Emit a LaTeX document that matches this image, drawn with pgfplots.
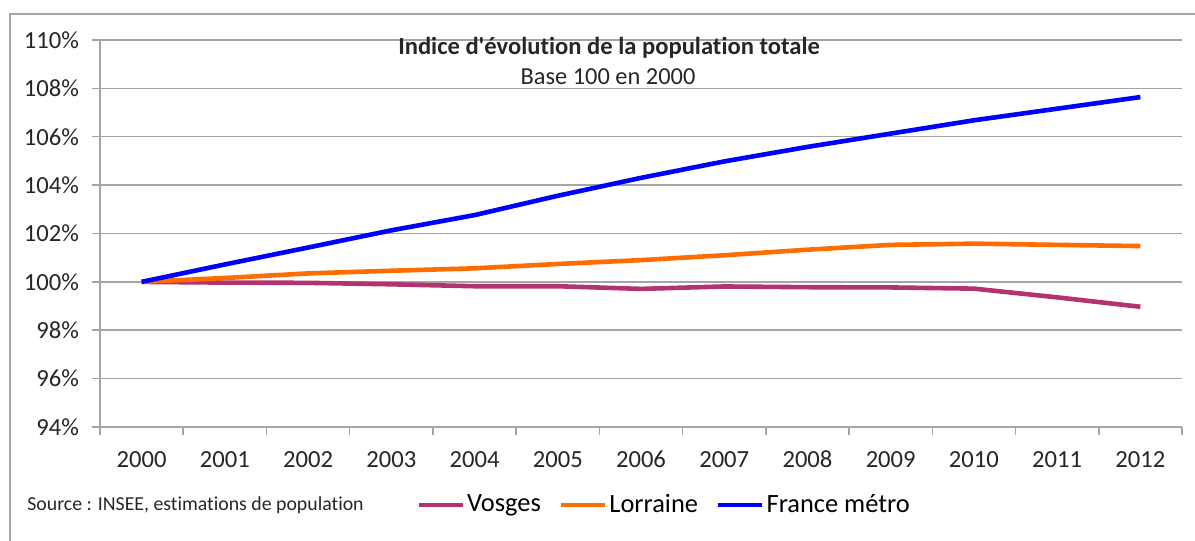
\documentclass[border=0pt]{standalone}
\usepackage{fontspec}
\setmainfont{Carlito}[Ligatures={NoCommon}]
\usepackage{pgfplots}
\pgfplotsset{compat=1.18}
\definecolor{vosges}{RGB}{181,50,113}
\definecolor{lorraine}{RGB}{255,108,0}
\definecolor{france}{RGB}{0,0,255}
\definecolor{gridgray}{RGB}{165,165,165}

\begin{document}
\begin{tikzpicture}
\path[use as bounding box] (0,0) rectangle (597.5bp,270.5bp);
% chart frame
\draw[gridgray, line width=1bp] (5bp,-2bp) -- (5bp,263.5bp) -- (600bp,263.5bp);
\begin{axis}[
    at={(50bp,57bp)}, anchor=south west,
    scale only axis, width=541bp, height=193.5bp,
    xmin=-0.5, xmax=12.5, ymin=94, ymax=110,
    xtick={-0.5,0.5,...,12.5},
    xticklabels={2000,2001,2002,2003,2004,2005,2006,2007,2008,2009,2010,2011,2012},
    x tick label as interval,
    ytick={94,96,...,110},
    yticklabel={\pgfmathprintnumber{\tick}\%},
    /pgf/number format/assume math mode=true,
    ymajorgrids, grid style={gridgray, line width=0.75bp},
    axis x line*=bottom, axis y line*=left,
    axis line style={-, gridgray, line width=0.75bp},
    tick align=outside, major tick length=4bp,
    tick style={gridgray, line width=0.75bp},
    ticklabel style={font=\fontsize{12.3bp}{14bp}\selectfont, text=black!85},
    xticklabel style={yshift=-4.5bp, text height=8bp, text depth=0bp},
    yticklabel style={xshift=-3bp},
    legend columns=-1,
    legend style={at={(0.2921,-0.2016)}, anchor=west, draw=none, fill=none, inner sep=0pt,
        font=\fontsize{13.2bp}{16bp}\selectfont,
        nodes={inner xsep=1bp, inner ysep=0bp},
        /tikz/every even column/.append style={column sep=8bp}},
    legend image code/.code={\draw[#1] (0bp,0bp) -- (22bp,0bp);},
    every axis plot/.append style={line width=2.3bp, line join=round},
]
\addplot[color=vosges] coordinates {
(0,100) (1,99.97) (2,99.96) (3,99.90) (4,99.82) (5,99.82) (6,99.71)
(7,99.81) (8,99.78) (9,99.77) (10,99.72) (11,99.36) (12,98.97)};
\addlegendentry{Vosges}
\addplot[color=lorraine] coordinates {
(0,100) (1,100.16) (2,100.35) (3,100.46) (4,100.56) (5,100.74) (6,100.90)
(7,101.10) (8,101.33) (9,101.53) (10,101.58) (11,101.53) (12,101.48)};
\addlegendentry{Lorraine}
\addplot[color=france] coordinates {
(0,100) (1,100.72) (2,101.42) (3,102.13) (4,102.76) (5,103.56) (6,104.30)
(7,104.98) (8,105.58) (9,106.13) (10,106.68) (11,107.16) (12,107.64)};
\addlegendentry{France métro}
\end{axis}
\node[font=\bfseries\fontsize{12.3bp}{14bp}\selectfont, text=black!85] at (304.5bp,246.5bp) {Indice d\textquotesingle évolution de la population totale};
\node[font=\fontsize{12.2bp}{14bp}\selectfont, text=black!85] at (304bp,232bp) {Base 100 en 2000};
\node[anchor=west, inner sep=0pt, font=\fontsize{9.9bp}{11bp}\selectfont, text=black!85] at (13.5bp,18bp) {Source : INSEE, estimations de population};
\end{tikzpicture}
\end{document}
